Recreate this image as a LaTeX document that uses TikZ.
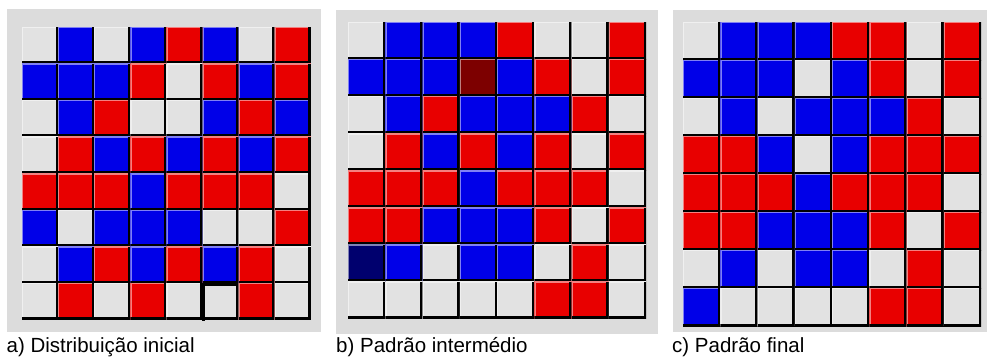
\documentclass[tikz,border=0pt]{standalone}
\usepackage{fontspec}
\setmainfont{Liberation Sans}
\definecolor{panelgray}{RGB}{220,220,220}
\definecolor{cellW}{RGB}{226,226,226}
\definecolor{cellB}{RGB}{0,0,232}
\definecolor{cellR}{RGB}{232,0,0}
\definecolor{cellD}{RGB}{125,0,0}
\definecolor{cellN}{RGB}{0,0,110}

\begin{document}
\begin{tikzpicture}[
    x=1pt,y=-1pt,
    panel/.style={fill=panelgray},
    cell/.style={inner sep=0pt,outer sep=0pt,anchor=north west,fill=cell#1,
      path picture={
        \draw[cell#1!50!white,line width=2.5pt] (path picture bounding box.south west) -- (path picture bounding box.north west) -- (path picture bounding box.north east);
        \draw[black,line width=5pt] (path picture bounding box.north east) -- (path picture bounding box.south east) -- (path picture bounding box.south west);
      }},
    caption/.style={font=\fontsize{20.5}{24}\selectfont,anchor=base west,inner sep=0pt}
  ]
    \useasboundingbox (0,0) rectangle (987,356);
    \fill[white] (0,0) rectangle (987,356);

    % grey panels
    \fill[panel] (7,9) rectangle (321,332);
    \fill[panel] (336,10) rectangle (658,334);
    \fill[panel] (673,10) rectangle (987,332);

    % a) initial distribution
    \foreach \row [count=\r] in {{W,B,W,B,R,B,W,R},{B,B,B,R,W,R,B,R},{W,B,R,W,W,B,R,B},{W,R,B,R,B,R,B,R},
                                 {R,R,R,B,R,R,R,W},{B,W,B,B,B,W,W,R},{W,B,R,B,R,B,R,W},{W,R,W,R,W,W,R,W}}
      \foreach \c [count=\k] in \row
        \node[cell=\c,minimum width=36.1pt,minimum height=36.6pt] (a-\r-\k) at ({22+(\k-1)*36.1},{27+(\r-1)*36.6}) {};
    \draw[line width=2.5pt] ([shift={(1.2pt,-1pt)}]a-8-6.south west) -- ([shift={(1.2pt,-1.2pt)}]a-8-6.north west) -- ([shift={(-1pt,-1.2pt)}]a-8-6.north east);

    % b) intermediate pattern
    \foreach \row [count=\r] in {{W,B,B,B,R,W,W,R},{B,B,B,D,B,R,W,R},{W,B,R,B,B,B,R,W},{W,R,B,R,B,R,W,R},
                                 {R,R,R,B,R,R,R,W},{R,R,B,B,B,R,W,R},{N,B,W,B,B,W,R,W},{W,W,W,W,W,R,R,W}}
      \foreach \c [count=\k] in \row
        \node[cell=\c,minimum width=37.25pt,minimum height=37.1pt] (b-\r-\k) at ({348+(\k-1)*37.25},{22+(\r-1)*37.1}) {};

    % c) final pattern
    \foreach \row [count=\r] in {{W,B,B,B,R,R,W,R},{B,B,B,W,B,R,W,R},{W,B,W,B,B,B,R,W},{R,R,B,W,B,R,R,R},
                                 {R,R,R,B,R,R,R,W},{R,R,B,B,B,R,W,R},{W,B,W,B,B,W,R,W},{B,W,W,W,W,R,R,W}}
      \foreach \c [count=\k] in \row
        \node[cell=\c,minimum width=37.25pt,minimum height=38pt] (c-\r-\k) at ({683+(\k-1)*37.25},{22+(\r-1)*38}) {};

    % captions
    \node[caption] (capa) at (6.5,352.5) {a) Distribuição inicial};
    \node[caption] (capb) at (336,352.5) {b) Padrão intermédio};
    \node[caption] (capc) at (672,352.5) {c) Padrão final};
  \end{tikzpicture}
\end{document}
